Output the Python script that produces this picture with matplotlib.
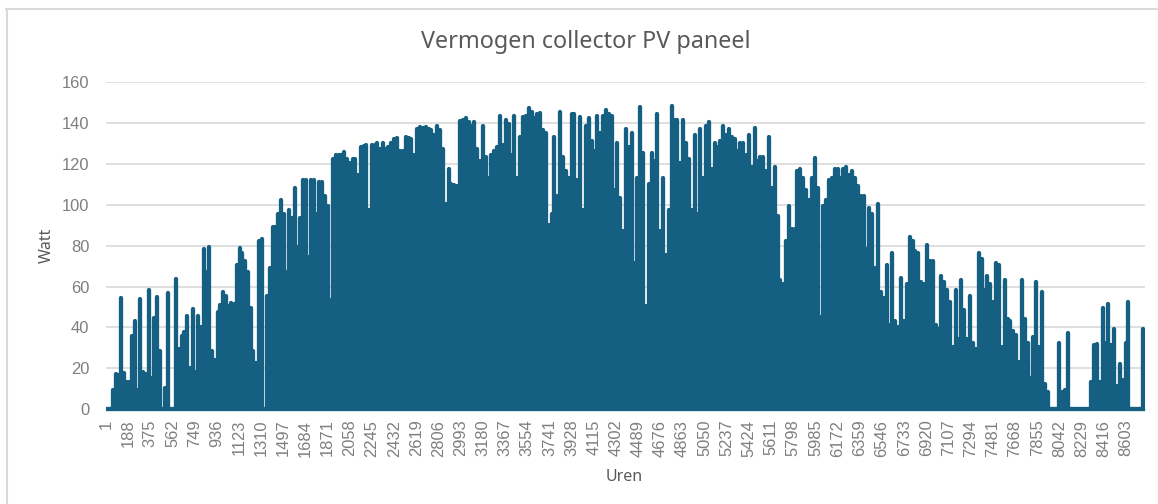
import numpy as np
import matplotlib
matplotlib.use("Agg")
import matplotlib.pyplot as plt
from matplotlib.lines import Line2D

title = "Vermogen collector PV paneel"
x_title = "Uren"
y_title = "Watt"
x_tick_hours = list(range(1, 8604, 187))
y_ticks = [0, 20, 40, 60, 80, 100, 120, 140, 160]

# Daily peak power (W), in three stretches of the year
winter_spring_watt = [
    0,0,10,18,17.5,55,18.5,14,14,36.5,
    44,10,54.5,19,18,59,16,45.5,55.5,29,
    0,11,57.5,0,0,64.5,30,36.5,38.5,46.5,
    21,49.5,19,46.5,41,79,68,80,29,25,
    48.5,51.5,58,56,51,52.5,52,71,79.5,77,
    73,68,50,29,23.5,83,84,0,56,70,
    90,90,96,103,96,68,98,94,109,80,
    94,113,113,75,113,113,96,112,112,105,
    100,54,123,125,125,125,126.5,123,121,123,
    123,115,129,129.5,130,98,130,130,131,128,
    131,128,129,131,133,133.5]
winter_spring_hours = (12, 2452)

summer_watt = [
    127,127,134,133.5,133,125,137.5,138.5,138,138.5,
    137.5,137,135,139,137,128,101,118,111,110.5,
    110,141.5,142,143,141,139,141,128,122,139,
    124,114,125,127,129,144,130,142,140,125,
    144,114,134,143.5,144,148,146,143,145,145.5,
    137,136,91,96,134,105,146,124,117,114,
    145,145,113,143.5,98,139,143,132,127,144,
    136,144,147,145,144,108,131,104,88,137.5,
    129,136,72,114,148.5,126,51,111,126,122,
    145,88,114,76,98,149,142,142,121,142,
    131,123,98,135,96,137.5,114,139,141,118,
    131,129,132,139,135,137.5,134,133,127,131,
    131,125,135,119,138,122,124,124,117,134,
    109,119,95,64,62,83,100]
summer_hours = (2480, 5762)

autumn_watt = [
    89,89,117,118,114,108,103,114,123.5,109,
    46,100,103,113,114,118,118,114,118,119,
    115,117,114,110,105,105,79,99,96,70,
    101,58,55,71,42,77,44,41,65,44,
    62,85,83,78,77,63,62,81,73,73,
    42,40,66,63,59,53,31,59,35,64,
    49,35,56,33,30,77,74,59,66,62,
    53,72,71,31,64,45,44,39,37,24,
    64,45,33,16,36,63,31,58,13,9,
    0,0,0,33,9,10,38,0,0,0,
    0,0,0,0,14,32,32.5,14,50,33,
    52,32,40,12,23,15,33,53,0,0,
    0,0,40]
autumn_hours = (5784, 8746)

BLUE = "#156082"
GRID = "#d9d9d9"
W, H = 1158, 504
fig = plt.figure(figsize=(W / 100, H / 100), dpi=100, facecolor="white")
left, right, top, bottom = 106, 1144.5, 82, 409.3
ax = fig.add_axes([left / W, (H - bottom) / H, (right - left) / W, (bottom - top) / H])

for vals, (h0, h1) in [(winter_spring_watt, winter_spring_hours),
                       (summer_watt, summer_hours),
                       (autumn_watt, autumn_hours)]:
    v = np.array(vals, dtype=float)
    h = np.linspace(h0, h1, len(v))
    # the round line cap adds about a watt above the end of each stroke
    tops = np.clip(v - 0.7, 0, None)
    ax.vlines(h, 0, tops, colors=BLUE, linewidth=3.1, capstyle="round", zorder=3)

ax.plot([1, 8760], [0, 0], color=BLUE, lw=3.1, solid_capstyle="butt", zorder=3, clip_on=False)

ax.set_xlim(1, 8760)
ax.set_ylim(0, 160)
ax.set_yticks(y_ticks)
ax.set_xticks(x_tick_hours)
ax.set_xticklabels([str(t) for t in x_tick_hours], rotation=90)
ax.grid(axis="y", color=GRID, lw=1.2, zorder=0)
ax.set_axisbelow(True)
for s in ["top", "right", "left"]:
    ax.spines[s].set_visible(False)
ax.spines["bottom"].set_color("#c9d6de")
ax.spines["bottom"].set_linewidth(1.0)
ax.tick_params(axis="x", length=0, pad=7.5, labelsize=11.9, labelcolor="#7f7f7f")
ax.tick_params(axis="y", length=0, pad=12, labelsize=11.9, labelcolor="#7f7f7f")
for lab in ax.get_xticklabels() + ax.get_yticklabels():
    lab.set_fontfamily("Liberation Sans")

fig.text(586 / W, 1 - 42.5 / H, title, ha="center", va="center", fontsize=16.8,
         color="#595959", family="Noto Sans")
fig.text(624 / W, 1 - 477 / H, x_title, ha="center", va="center", fontsize=11.5,
         color="#595959", family="Noto Sans")
fig.text(47 / W, 1 - 245 / H, y_title, ha="center", va="center", rotation=90, fontsize=11.5,
         color="#595959", family="Noto Sans")

fig.add_artist(Line2D([7 / W, 7 / W], [0, 1 - 9 / H], color=GRID, lw=1.5, transform=fig.transFigure))
fig.add_artist(Line2D([6.3 / W, 1], [1 - 9 / H, 1 - 9 / H], color=GRID, lw=1.5, transform=fig.transFigure))

fig.savefig("out.png", dpi=100)
